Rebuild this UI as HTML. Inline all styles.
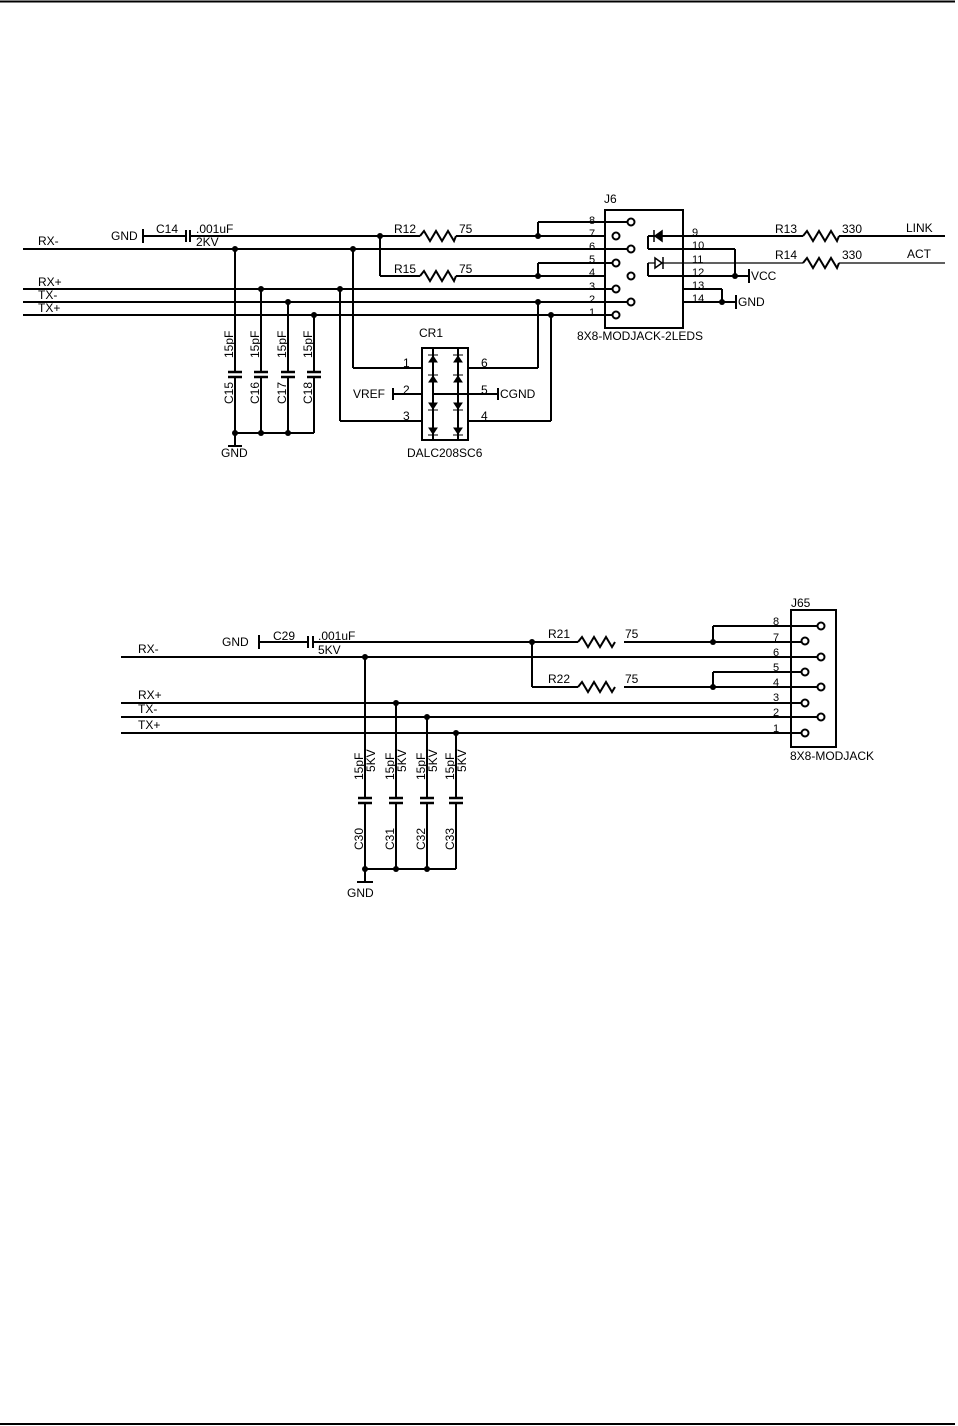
<!DOCTYPE html>
<html><head><meta charset="utf-8"><style>
html,body{margin:0;padding:0;background:#fff;}
svg{display:block;}
text{font-family:"Liberation Sans",sans-serif;font-size:12px;fill:#000;}
</style></head><body>
<svg width="958" height="1426" viewBox="0 0 958 1426" xmlns="http://www.w3.org/2000/svg">
<line x1="0" y1="1.5" x2="955" y2="1.5" stroke="#000" stroke-width="2"/>
<line x1="0" y1="1424" x2="955" y2="1424" stroke="#000" stroke-width="2"/>

<g stroke="#000" stroke-width="2" fill="none">
<line x1="143" y1="229" x2="143" y2="243"/>
<line x1="143" y1="236" x2="185" y2="236"/>
<line x1="186" y1="230" x2="186" y2="242"/>
<line x1="190" y1="230" x2="190" y2="242"/>
<line x1="190" y1="236" x2="420" y2="236"/>
<path d="M420 236 l4 -5 l6 10 l6 -10 l6 10 l6 -10 l6 10 l2 -5"/>
<line x1="456" y1="236" x2="605" y2="236"/>
<line x1="380" y1="236" x2="380" y2="276"/>
<line x1="380" y1="276" x2="420" y2="276"/>
<path d="M420 276 l4 -5 l6 10 l6 -10 l6 10 l6 -10 l6 10 l2 -5"/>
<line x1="456" y1="276" x2="605" y2="276"/>
<line x1="538" y1="236" x2="538" y2="222"/><line x1="538" y1="222" x2="627" y2="222"/>
<line x1="538" y1="276" x2="538" y2="263"/><line x1="538" y1="263" x2="612" y2="263"/>
<line x1="23" y1="249" x2="627" y2="249"/>
<line x1="23" y1="289" x2="612" y2="289"/>
<line x1="23" y1="302" x2="627" y2="302"/>
<line x1="23" y1="315" x2="612" y2="315"/>
<line x1="235" y1="249" x2="235" y2="372"/><line x1="235" y1="377" x2="235" y2="433"/>
<line x1="261" y1="289" x2="261" y2="372"/><line x1="261" y1="377" x2="261" y2="433"/>
<line x1="288" y1="302" x2="288" y2="372"/><line x1="288" y1="377" x2="288" y2="433"/>
<line x1="314" y1="315" x2="314" y2="372"/><line x1="314" y1="377" x2="314" y2="433"/>
<g stroke-width="2.5">
<line x1="228" y1="372" x2="242" y2="372"/><line x1="228" y1="377" x2="242" y2="377"/>
<line x1="254" y1="372" x2="268" y2="372"/><line x1="254" y1="377" x2="268" y2="377"/>
<line x1="281" y1="372" x2="295" y2="372"/><line x1="281" y1="377" x2="295" y2="377"/>
<line x1="307" y1="372" x2="321" y2="372"/><line x1="307" y1="377" x2="321" y2="377"/>
</g>
<line x1="235" y1="433" x2="314" y2="433"/>
<line x1="235" y1="433" x2="235" y2="446"/>
<line x1="228" y1="446" x2="242" y2="446"/>
<line x1="353" y1="249" x2="353" y2="368"/><line x1="353" y1="368" x2="422" y2="368"/>
<line x1="340" y1="289" x2="340" y2="421"/><line x1="340" y1="421" x2="422" y2="421"/>
<line x1="393" y1="388" x2="393" y2="400"/><line x1="393" y1="394" x2="422" y2="394"/>
<line x1="468" y1="368" x2="538" y2="368"/><line x1="538" y1="368" x2="538" y2="302"/>
<line x1="468" y1="421" x2="551" y2="421"/><line x1="551" y1="421" x2="551" y2="315"/>
<line x1="433" y1="394" x2="498" y2="394"/><line x1="498" y1="388" x2="498" y2="400"/>
<rect x="422" y="348" width="46" height="92"/>
<line x1="433" y1="348" x2="433" y2="440"/>
<line x1="458" y1="348" x2="458" y2="440"/>
<rect x="605" y="210" width="78" height="118"/>
<line x1="648" y1="236" x2="803" y2="236"/>
<line x1="839" y1="236" x2="945" y2="236"/>
<path d="M803 236 l4 -5 l6 10 l6 -10 l6 10 l6 -10 l6 10 l2 -5"/>
<line x1="648" y1="236" x2="648" y2="249"/><line x1="648" y1="249" x2="735" y2="249"/>
<line x1="735" y1="249" x2="735" y2="276"/>
<line x1="648" y1="263" x2="648" y2="276"/><line x1="648" y1="276" x2="735" y2="276"/>
<line x1="735" y1="276" x2="749" y2="276"/><line x1="749" y1="269" x2="749" y2="283"/>
<line x1="683" y1="289" x2="722" y2="289"/><line x1="722" y1="289" x2="722" y2="302"/>
<line x1="683" y1="302" x2="736" y2="302"/><line x1="736" y1="295" x2="736" y2="309"/>
<path d="M803 263 l4 -5 l6 10 l6 -10 l6 10 l6 -10 l6 10 l2 -5"/>
</g>
<g stroke="#000" stroke-width="1.3" fill="none">
<line x1="648" y1="263" x2="803" y2="263"/>
<line x1="839" y1="263" x2="945" y2="263"/>
</g>
<g fill="#000" stroke="#000" stroke-width="1.5">
<path d="M662 231 L662 241 L655 236 Z"/><line x1="654" y1="230" x2="654" y2="242"/>
<path d="M655 258 L655 268 L662 263 Z" fill="#fff"/><line x1="663" y1="257" x2="663" y2="269"/>
</g>
<g fill="#000" stroke="#000" stroke-width="1">
<path d="M429 362 h8 l-4 -6 z"/><line x1="428" y1="355" x2="438" y2="355"/>
<path d="M429 382 h8 l-4 -6 z"/><line x1="428" y1="375" x2="438" y2="375"/>
<path d="M429 403 h8 l-4 6 z"/><line x1="428" y1="410" x2="438" y2="410"/>
<path d="M429 428 h8 l-4 6 z"/><line x1="428" y1="435" x2="438" y2="435"/>
<path d="M454 362 h8 l-4 -6 z"/><line x1="453" y1="355" x2="463" y2="355"/>
<path d="M454 382 h8 l-4 -6 z"/><line x1="453" y1="375" x2="463" y2="375"/>
<path d="M454 403 h8 l-4 6 z"/><line x1="453" y1="410" x2="463" y2="410"/>
<path d="M454 428 h8 l-4 6 z"/><line x1="453" y1="435" x2="463" y2="435"/>
</g>
<g stroke="#000" stroke-width="2" fill="#fff">
<circle cx="631" cy="222" r="3.5"/><circle cx="616" cy="236" r="3.5"/>
<circle cx="631" cy="249" r="3.5"/><circle cx="616" cy="263" r="3.5"/>
<circle cx="631" cy="276" r="3.5"/><circle cx="616" cy="289" r="3.5"/>
<circle cx="631" cy="302" r="3.5"/><circle cx="616" cy="315" r="3.5"/>
</g>
<g fill="#000">
<circle cx="380" cy="236" r="3"/><circle cx="235" cy="249" r="3"/><circle cx="353" cy="249" r="3"/>
<circle cx="261" cy="289" r="3"/><circle cx="340" cy="289" r="3"/><circle cx="288" cy="302" r="3"/>
<circle cx="314" cy="315" r="3"/><circle cx="538" cy="236" r="3"/><circle cx="538" cy="276" r="3"/>
<circle cx="538" cy="302" r="3"/><circle cx="551" cy="315" r="3"/>
<circle cx="235" cy="433" r="3"/><circle cx="261" cy="433" r="3"/><circle cx="288" cy="433" r="3"/>
<circle cx="735" cy="276" r="3"/><circle cx="722" cy="302" r="3"/>
</g>
<text x="38" y="245">RX-</text>
<text x="38" y="286">RX+</text>
<text x="38" y="299">TX-</text>
<text x="38" y="312">TX+</text>
<text x="111" y="240">GND</text>
<text x="156" y="233">C14</text>
<text x="196" y="233">.001uF</text>
<text x="196" y="246">2KV</text>
<text x="394" y="233">R12</text><text x="459" y="233">75</text>
<text x="394" y="273">R15</text><text x="459" y="273">75</text>
<text x="604" y="203">J6</text>
<g>
<text x="589" y="224" style="font-size:11px">8</text><text x="589" y="237" style="font-size:11px">7</text>
<text x="589" y="250" style="font-size:11px">6</text><text x="589" y="263" style="font-size:11px">5</text>
<text x="589" y="276" style="font-size:11px">4</text><text x="589" y="290" style="font-size:11px">3</text>
<text x="589" y="303" style="font-size:11px">2</text><text x="589" y="316" style="font-size:11px">1</text>
<text x="692" y="236" style="font-size:11px">9</text><text x="692" y="249" style="font-size:11px">10</text>
<text x="692" y="263" style="font-size:11px">11</text><text x="692" y="276" style="font-size:11px">12</text>
<text x="692" y="289" style="font-size:11px">13</text><text x="692" y="302" style="font-size:11px">14</text>
</g>
<text x="577" y="340">8X8-MODJACK-2LEDS</text>
<text x="775" y="233">R13</text><text x="842" y="233">330</text><text x="906" y="232">LINK</text>
<text x="775" y="259">R14</text><text x="842" y="259">330</text><text x="907" y="258">ACT</text>
<text x="751" y="280">VCC</text>
<text x="738" y="306">GND</text>
<text x="419" y="337">CR1</text>
<text x="403" y="367">1</text><text x="403" y="394">2</text><text x="403" y="420">3</text>
<text x="481" y="367">6</text><text x="481" y="394">5</text><text x="481" y="420">4</text>
<text x="353" y="398">VREF</text>
<text x="500" y="398">CGND</text>
<text x="407" y="457">DALC208SC6</text>
<text x="221" y="457">GND</text>
<text transform="translate(233,358) rotate(-90)">15pF</text>
<text transform="translate(259,358) rotate(-90)">15pF</text>
<text transform="translate(286,358) rotate(-90)">15pF</text>
<text transform="translate(312,358) rotate(-90)">15pF</text>
<text transform="translate(233,404) rotate(-90)">C15</text>
<text transform="translate(259,404) rotate(-90)">C16</text>
<text transform="translate(286,404) rotate(-90)">C17</text>
<text transform="translate(312,404) rotate(-90)">C18</text>

<g stroke="#000" stroke-width="2" fill="none">
<line x1="259" y1="635" x2="259" y2="649"/>
<line x1="259" y1="642" x2="307" y2="642"/>
<line x1="308" y1="636" x2="308" y2="648"/>
<line x1="313" y1="636" x2="313" y2="648"/>
<line x1="313" y1="642" x2="578" y2="642"/>
<path d="M578 642 l4 -5 l6 10 l6 -10 l6 10 l6 -10 l6 10 l3 -5"/>
<line x1="624" y1="642" x2="801" y2="642"/>
<line x1="532" y1="642" x2="532" y2="687"/><line x1="532" y1="687" x2="578" y2="687"/>
<path d="M578 687 l4 -5 l6 10 l6 -10 l6 10 l6 -10 l6 10 l3 -5"/>
<line x1="624" y1="687" x2="817" y2="687"/>
<line x1="713" y1="642" x2="713" y2="626"/><line x1="713" y1="626" x2="817" y2="626"/>
<line x1="713" y1="687" x2="713" y2="672"/><line x1="713" y1="672" x2="801" y2="672"/>
<line x1="121" y1="657" x2="817" y2="657"/>
<line x1="121" y1="703" x2="801" y2="703"/>
<line x1="121" y1="717" x2="817" y2="717"/>
<line x1="121" y1="733" x2="801" y2="733"/>
<line x1="365" y1="657" x2="365" y2="798"/><line x1="365" y1="803" x2="365" y2="869"/>
<line x1="396" y1="703" x2="396" y2="798"/><line x1="396" y1="803" x2="396" y2="869"/>
<line x1="427" y1="717" x2="427" y2="798"/><line x1="427" y1="803" x2="427" y2="869"/>
<line x1="456" y1="733" x2="456" y2="798"/><line x1="456" y1="803" x2="456" y2="869"/>
<g stroke-width="2.5">
<line x1="358" y1="798" x2="372" y2="798"/><line x1="358" y1="803" x2="372" y2="803"/>
<line x1="389" y1="798" x2="403" y2="798"/><line x1="389" y1="803" x2="403" y2="803"/>
<line x1="420" y1="798" x2="434" y2="798"/><line x1="420" y1="803" x2="434" y2="803"/>
<line x1="449" y1="798" x2="463" y2="798"/><line x1="449" y1="803" x2="463" y2="803"/>
</g>
<line x1="365" y1="869" x2="456" y2="869"/>
<line x1="365" y1="869" x2="365" y2="882"/>
<line x1="357" y1="882" x2="373" y2="882"/>
<rect x="791" y="610" width="45" height="137"/>
</g>
<g stroke="#000" stroke-width="2" fill="#fff">
<circle cx="821" cy="626" r="3.5"/><circle cx="805" cy="641" r="3.5"/>
<circle cx="821" cy="657" r="3.5"/><circle cx="805" cy="672" r="3.5"/>
<circle cx="821" cy="687" r="3.5"/><circle cx="805" cy="703" r="3.5"/>
<circle cx="821" cy="717" r="3.5"/><circle cx="805" cy="733" r="3.5"/>
</g>
<g fill="#000">
<circle cx="532" cy="642" r="3"/><circle cx="365" cy="657" r="3"/><circle cx="396" cy="703" r="3"/>
<circle cx="427" cy="717" r="3"/><circle cx="456" cy="733" r="3"/><circle cx="713" cy="642" r="3"/>
<circle cx="713" cy="687" r="3"/><circle cx="365" cy="869" r="3"/><circle cx="396" cy="869" r="3"/>
<circle cx="427" cy="869" r="3"/>
</g>
<text x="138" y="653">RX-</text>
<text x="138" y="699">RX+</text>
<text x="138" y="713">TX-</text>
<text x="138" y="729">TX+</text>
<text x="222" y="646">GND</text>
<text x="273" y="640">C29</text>
<text x="318" y="640">.001uF</text>
<text x="318" y="654">5KV</text>
<text x="548" y="638">R21</text><text x="625" y="638">75</text>
<text x="548" y="683">R22</text><text x="625" y="683">75</text>
<text x="791" y="607">J65</text>
<g>
<text x="773" y="625" style="font-size:11px">8</text><text x="773" y="641" style="font-size:11px">7</text>
<text x="773" y="656" style="font-size:11px">6</text><text x="773" y="671" style="font-size:11px">5</text>
<text x="773" y="686" style="font-size:11px">4</text><text x="773" y="701" style="font-size:11px">3</text>
<text x="773" y="716" style="font-size:11px">2</text><text x="773" y="732" style="font-size:11px">1</text>
</g>
<text x="790" y="760">8X8-MODJACK</text>
<text x="347" y="897">GND</text>
<text transform="translate(363,780) rotate(-90)">15pF</text>
<text transform="translate(375,772) rotate(-90)">5KV</text>
<text transform="translate(394,780) rotate(-90)">15pF</text>
<text transform="translate(406,772) rotate(-90)">5KV</text>
<text transform="translate(425,780) rotate(-90)">15pF</text>
<text transform="translate(437,772) rotate(-90)">5KV</text>
<text transform="translate(454,780) rotate(-90)">15pF</text>
<text transform="translate(466,772) rotate(-90)">5KV</text>
<text transform="translate(363,850) rotate(-90)">C30</text>
<text transform="translate(394,850) rotate(-90)">C31</text>
<text transform="translate(425,850) rotate(-90)">C32</text>
<text transform="translate(454,850) rotate(-90)">C33</text>
</svg>
</body></html>
